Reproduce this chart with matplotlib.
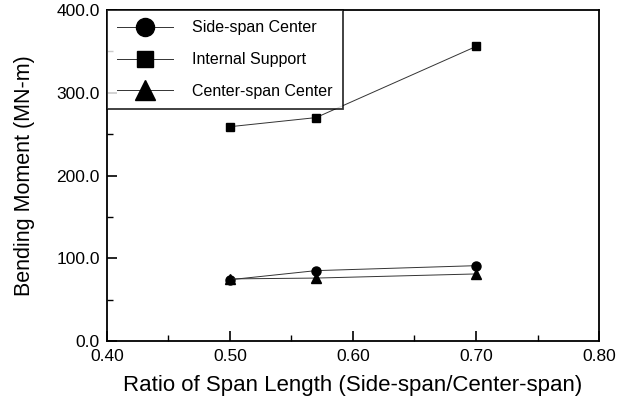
import matplotlib
matplotlib.use("Agg")
import matplotlib.pyplot as plt
from matplotlib.ticker import MultipleLocator, FormatStrFormatter

plt.rcParams['font.family'] = ['Liberation Sans', 'DejaVu Sans']

ratio = [0.50, 0.57, 0.70]
side_span_center = [74, 85, 91]
internal_support = [259, 270, 356]
center_span_center = [75, 76, 81]

fig = plt.figure(figsize=(6.28, 4.03), dpi=100)
ax = fig.add_axes([0.170, 0.154, 0.784, 0.821])

lw = 0.7
c = '#333333'
ax.plot(ratio, side_span_center, color=c, lw=lw, marker='o', ms=6.5, mfc='black', mec='black', label='Side-span Center')
ax.plot(ratio, internal_support, color=c, lw=lw, marker='s', ms=6, mfc='black', mec='black', label='Internal Support')
ax.plot(ratio, center_span_center, color=c, lw=lw, marker='^', ms=7, mfc='black', mec='black', label='Center-span Center')

ax.set_xlim(0.40, 0.80)
ax.set_ylim(0, 400)
ax.xaxis.set_major_locator(MultipleLocator(0.1))
ax.xaxis.set_minor_locator(MultipleLocator(0.05))
ax.yaxis.set_major_locator(MultipleLocator(100))
ax.yaxis.set_minor_locator(MultipleLocator(50))
ax.xaxis.set_major_formatter(FormatStrFormatter('%.2f'))
ax.yaxis.set_major_formatter(FormatStrFormatter('%.1f'))
ax.tick_params(which='both', direction='in', labelsize=12.5)
ax.tick_params(which='major', length=7, width=1.2)
ax.tick_params(which='minor', length=4, width=1.0)
ax.tick_params(axis='x', pad=6)
ax.tick_params(axis='y', pad=5)
for s in ax.spines.values():
    s.set_linewidth(1.3)

ax.set_xlabel('Ratio of Span Length (Side-span/Center-span)', fontsize=16, labelpad=8)
ax.set_ylabel('Bending Moment (MN-m)', fontsize=15.5, labelpad=15)

leg = ax.legend(loc='upper left', bbox_to_anchor=(0.0, 1.0), frameon=True, fancybox=False,
                edgecolor='black', fontsize=11.5, handlelength=3.5, markerscale=2.0,
                borderpad=0.65, labelspacing=1.05, handletextpad=1.2, borderaxespad=0)
leg.get_frame().set_linewidth(1.3)

fig.savefig('out.png', dpi=100)
